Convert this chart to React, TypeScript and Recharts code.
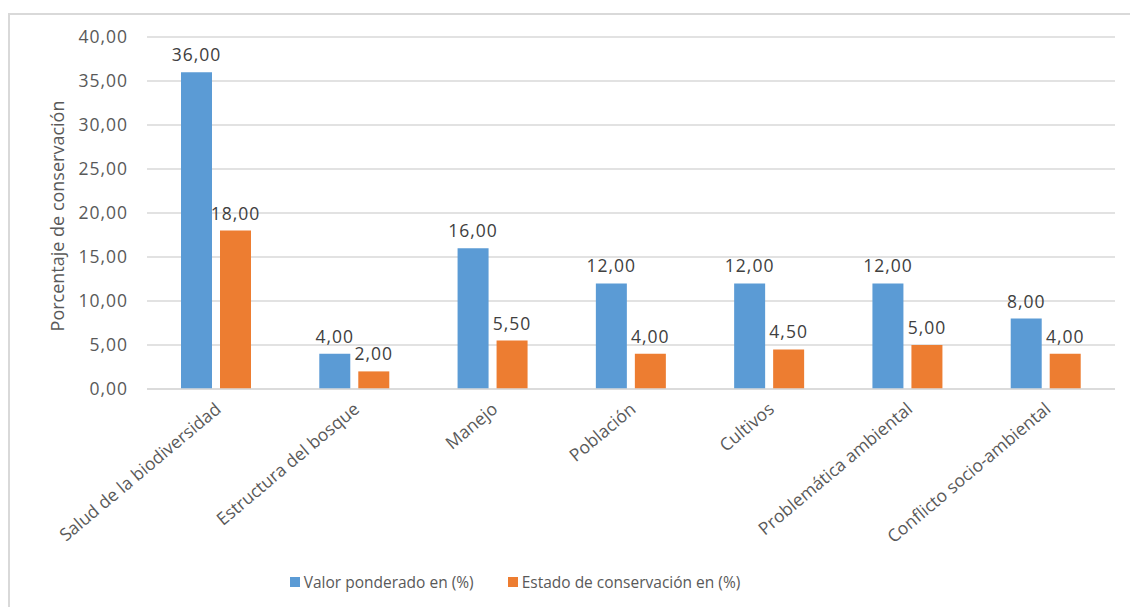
import { BarChart, Bar, XAxis, YAxis, CartesianGrid, Legend, LabelList } from "recharts"

const categorias = [
  "Salud de la biodiversidad",
  "Estructura del bosque",
  "Manejo",
  "Población",
  "Cultivos",
  "Problemática ambiental",
  "Conflicto socio-ambiental",
]
const valorPonderado = [36, 4, 16, 12, 12, 12, 8]
const estadoConservacion = [18, 2, 5.5, 4, 4.5, 5, 4]
const ticksY = [0, 5, 10, 15, 20, 25, 30, 35, 40]

const AZUL = "#5b9bd5"
const NARANJA = "#ed7d31"
const GRIS = "#595959"
const FUENTE = "'Open Sans', 'Noto Sans', sans-serif"

const data = categorias.map((cat, i) => ({
  cat,
  valor: valorPonderado[i],
  estado: estadoConservacion[i],
}))

const fmt = (v: number) => v.toFixed(2).replace(".", ",")

function TickX({ x, y, payload }: any) {
  return (
    <text
      transform={`translate(${x + 6}, ${y + 14}) rotate(-40)`}
      textAnchor="end"
      fontSize={17.5}
      fill={GRIS}
      fontFamily={FUENTE}
    >
      {payload.value}
    </text>
  )
}

function EtiquetaY({ viewBox }: any) {
  const cx = 57
  const cy = viewBox.y + viewBox.height / 2 + 3
  return (
    <text
      transform={`translate(${cx}, ${cy}) rotate(-90)`}
      textAnchor="middle"
      dominantBaseline="central"
      fontSize={18}
      fill={GRIS}
      fontFamily={FUENTE}
    >
      Porcentaje de conservación
    </text>
  )
}

function Leyenda() {
  const items = [
    { nombre: "Valor ponderado en (%)", color: AZUL },
    { nombre: "Estado de conservación en (%)", color: NARANJA },
  ]
  return (
    <div
      style={{
        display: "flex",
        justifyContent: "center",
        gap: 34,
        paddingRight: 100,
        fontFamily: FUENTE,
        fontSize: 15.5,
        color: GRIS,
      }}
    >
      {items.map((it) => (
        <div key={it.nombre} style={{ display: "flex", alignItems: "center" }}>
          <span style={{ width: 10, height: 10, background: it.color, marginRight: 4, display: "inline-block" }} />
          {it.nombre}
        </div>
      ))}
    </div>
  )
}

export default function App() {
  return (
    <div style={{ position: "fixed", left: 0, top: 0, width: 1130, height: 607, background: "#fff", overflow: "hidden" }}>
      <div
        style={{
          position: "absolute",
          left: 8,
          top: 13,
          width: 1140,
          height: 620,
          borderTop: "2px solid #d9d9d9",
          borderLeft: "2px solid #d9d9d9",
        }}
      />
      <div style={{ position: "absolute", left: 0, top: 0 }}>
        <BarChart
          width={1130}
          height={607}
          data={data}
          margin={{ top: 37, right: 15, left: 0, bottom: 0 }}
          barGap={8}
          barSize={31}
        >
          <CartesianGrid vertical={false} stroke="#d9d9d9" strokeWidth={1.5} />
          <XAxis
            dataKey="cat"
            height={218}
            interval={0}
            tick={<TickX />}
            tickLine={false}
            axisLine={{ stroke: "#d9d9d9", strokeWidth: 1.5 }}
          />
          <YAxis
            width={147}
            domain={[0, 40]}
            ticks={ticksY}
            tickFormatter={fmt}
            tickLine={false}
            axisLine={false}
            tickSize={0}
            tickMargin={19}
            tick={{ fontSize: 17.5, fill: GRIS, fontFamily: FUENTE, letterSpacing: 1 }}
            label={<EtiquetaY />}
          />
          <Legend
            verticalAlign="middle"
            layout="horizontal"
            content={<Leyenda />}
            wrapperStyle={{ top: 571, left: 0, width: 1130 }}
          />
          <Bar dataKey="valor" name="Valor ponderado en (%)" fill={AZUL} isAnimationActive={false}>
            <LabelList
              dataKey="valor"
              position="top"
              offset={11}
              formatter={(v: any) => fmt(Number(v))}
              style={{ fontSize: 17.5, fill: "#404040", fontFamily: FUENTE, letterSpacing: 1 }}
            />
          </Bar>
          <Bar dataKey="estado" name="Estado de conservación en (%)" fill={NARANJA} isAnimationActive={false}>
            <LabelList
              dataKey="estado"
              position="top"
              offset={11}
              formatter={(v: any) => fmt(Number(v))}
              style={{ fontSize: 17.5, fill: "#404040", fontFamily: FUENTE, letterSpacing: 1 }}
            />
          </Bar>
        </BarChart>
      </div>
    </div>
  )
}
